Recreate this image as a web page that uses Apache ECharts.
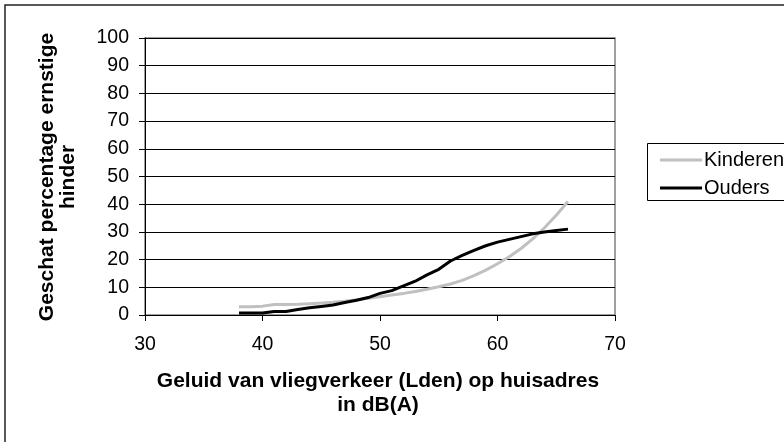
<!DOCTYPE html>
<html>
<head>
<meta charset="utf-8">
<script src="https://cdn.jsdelivr.net/npm/echarts@6/dist/echarts.min.js"></script>
<style>html,body{margin:0;padding:0;background:#fff}#c{width:784px;height:442px}</style>
</head>
<body>
<div id="c"></div>
<script>
const xValues = [38,39,40,41,42,43,44,45,46,47,48,49,50,51,52,53,54,55,56,57,58,59,60,61,62,63,64,65,66];
const kinderen = [3.0,3.0,3.2,3.8,3.8,3.9,4.1,4.3,4.6,5.0,5.5,6.0,6.6,7.2,7.8,8.5,9.3,10.2,11.2,12.5,14.2,16.2,18.5,21,24,27.5,31.5,36,41];
const ouders = [0.7,0.7,0.7,1.3,1.3,2.0,2.6,3.1,3.6,4.5,5.3,6.3,7.8,8.8,10.5,12.2,14.5,16.5,19.5,21.5,23.3,25,26.3,27.3,28.3,29.3,30,30.5,31];
const seriesNames = ['Kinderen','Ouders'];
const xTitle = 'Geluid van vliegverkeer (Lden) op huisadres\nin dB(A)';
const yTitle = 'Geschat percentage ernstige\nhinder';

const font = 'Liberation Sans, Arial, sans-serif';
const chart = echarts.init(document.getElementById('c'));
chart.setOption({
  animation: false,
  backgroundColor: '#fff',
  grid: {left: 145, right: 169, top: 38, bottom: 127, show: true, borderColor: '#808080', borderWidth: 1.5},
  xAxis: {
    type: 'value', min: 30, max: 70, interval: 10,
    axisLine: {lineStyle: {color: '#000', width: 1}},
    axisTick: {show: true, length: 6, lineStyle: {color: '#000'}},
    axisLabel: {color: '#000', fontFamily: font, fontSize: 19.5, margin: 20},
    splitLine: {show: false}
  },
  yAxis: {
    type: 'value', min: 0, max: 100, interval: 10,
    axisLine: {show: true, lineStyle: {color: '#000', width: 1}},
    axisTick: {show: true, length: 6, lineStyle: {color: '#000'}},
    axisLabel: {color: '#000', fontFamily: font, fontSize: 19.5, margin: 16},
    splitLine: {show: true, lineStyle: {color: '#000', width: 1}}
  },
  legend: {
    orient: 'vertical', left: 655, top: 145, itemWidth: 42, itemHeight: 10, itemGap: 8,
    icon: 'path://M0,0 L42,0 L42,3 L0,3 Z',
    textStyle: {color: '#000', fontFamily: font, fontSize: 20, padding: [0,0,0,-3]},
    data: seriesNames
  },
  graphic: [
    {type: 'rect', shape: {x: 5, y: 5, width: 800, height: 460}, style: {fill: 'none', stroke: '#222', lineWidth: 1.5}, silent: true},
    {type: 'rect', shape: {x: 647.5, y: 143.5, width: 160, height: 57}, style: {fill: 'none', stroke: '#000', lineWidth: 1}, silent: true, z: -1},
    {type: 'text', x: 58, y: 177, rotation: Math.PI/2, style: {text: yTitle, fontFamily: font, fontSize: 21, fontWeight: 'bold', fill: '#000', textAlign: 'center', textVerticalAlign: 'middle', lineHeight: 21}},
    {type: 'text', x: 378, y: 393, style: {text: xTitle, fontFamily: font, fontSize: 21, fontWeight: 'bold', fill: '#000', textAlign: 'center', textVerticalAlign: 'middle', lineHeight: 24}}
  ],
  series: [
    {name: seriesNames[0], type: 'line', symbol: 'none', data: xValues.map((x,i)=>[x,kinderen[i]]), lineStyle: {color: '#c0c0c0', width: 3}, itemStyle: {color: '#c0c0c0'}},
    {name: seriesNames[1], type: 'line', symbol: 'none', data: xValues.map((x,i)=>[x,ouders[i]]), lineStyle: {color: '#000', width: 3}, itemStyle: {color: '#000'}, z: 3}
  ]
});
</script>
</body>
</html>
